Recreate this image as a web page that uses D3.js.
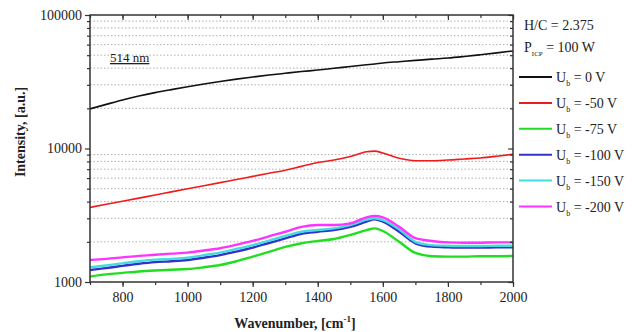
<!DOCTYPE html>
<html>
<head>
<meta charset="utf-8">
<script src="https://cdn.jsdelivr.net/npm/d3@7"></script>
<style>
  body { margin: 0; background: #fff; }
  text { font-family: "Liberation Serif", "DejaVu Serif", serif; fill: #222; }
</style>
</head>
<body>
<div id="chart"></div>
<script>
var svgWidth = 639;
var svgHeight = 332;

var margin = { top: 15, right: 126, bottom: 50, left: 90 };
var width = 513 - margin.left;
var height = 282 - margin.top;

// Wavenumber sample points (cm-1)
var wavenumbers = [700, 750, 800, 850, 900, 950, 1000, 1050, 1100, 1150, 1200, 1250, 1300, 1350,
  1400, 1450, 1500, 1550, 1575, 1600, 1650, 1700, 1750, 1800, 1850, 1900, 1950, 2000];

// Intensity (a.u.) for each bias voltage
var ub0 = [19800, 21400, 23100, 24700, 26200, 27600, 29000, 30400, 31800, 33100, 34300, 35500, 36600, 37700,
  38700, 39900, 41100, 42400, 43000, 43700, 44700, 45700, 46700, 47600, 48900, 50400, 52000, 53800];
var ub50 = [3620, 3820, 4030, 4250, 4480, 4730, 4990, 5260, 5550, 5860, 6180, 6520, 6880, 7350,
  7850, 8200, 8700, 9450, 9550, 9250, 8450, 8100, 8100, 8200, 8350, 8500, 8750, 9050];
var ub75 = [1100, 1140, 1170, 1200, 1220, 1235, 1250, 1290, 1340, 1430, 1550, 1680, 1830, 1950,
  2030, 2100, 2250, 2450, 2520, 2410, 2000, 1650, 1560, 1550, 1550, 1560, 1560, 1570];
var ub100 = [1230, 1270, 1320, 1370, 1410, 1430, 1460, 1520, 1590, 1690, 1810, 1960, 2120, 2300,
  2380, 2450, 2590, 2830, 2950, 2830, 2380, 1950, 1840, 1820, 1810, 1810, 1820, 1820];
var ub150 = [1290, 1330, 1380, 1430, 1470, 1490, 1520, 1590, 1660, 1770, 1890, 2040, 2210, 2380,
  2450, 2520, 2670, 2930, 3000, 2910, 2480, 2000, 1890, 1870, 1860, 1860, 1870, 1870];
var ub200 = [1460, 1490, 1530, 1570, 1600, 1630, 1660, 1720, 1790, 1900, 2030, 2200, 2380, 2590,
  2670, 2670, 2750, 3050, 3120, 3050, 2590, 2130, 2030, 1980, 1970, 1970, 1980, 1980];

var seriesLabels = ["0 V", "-50 V", "-75 V", "-100 V", "-150 V", "-200 V"];
var seriesColors = ["#111111", "#ee1c1c", "#22dd22", "#3333cc", "#44dddd", "#ff33ff"];
var xTicks = [800, 1000, 1200, 1400, 1600, 1800, 2000];
var yTicks = [1000, 10000, 100000];

var allSeries = [ub0, ub50, ub75, ub100, ub150, ub200];

var svg = d3.select("#chart")
  .append("svg")
  .attr("width", svgWidth)
  .attr("height", svgHeight);

var chartGroup = svg.append("g")
  .attr("transform", `translate(${margin.left}, ${margin.top})`);

var xScale = d3.scaleLinear().domain([700, 2000]).range([0, width]);
var yScale = d3.scaleLog().domain([1000, 100000]).range([height, 0]);

// minor log positions 2..9 in each decade
var minorY = [];
[1000, 10000].forEach(function(dec) {
  for (var k = 2; k <= 9; k++) minorY.push(dec * k);
});
var minorX = d3.range(700, 2001, 100);

// dotted grid
chartGroup.selectAll("line.grid")
  .data(minorY)
  .enter()
  .append("line")
  .attr("class", "grid")
  .attr("x1", 0).attr("x2", width)
  .attr("y1", function(d) { return yScale(d); })
  .attr("y2", function(d) { return yScale(d); })
  .attr("stroke", "#b0b0b0")
  .attr("stroke-width", 1)
  .attr("stroke-dasharray", "1.5,2");

// series
var line = d3.line()
  .x(function(d, i) { return xScale(wavenumbers[i]); })
  .y(function(d) { return yScale(d); })
  .curve(d3.curveMonotoneX);

// draw from bottom series up so the top ones sit on top like the original
[2, 3, 4, 5, 1, 0].forEach(function(i) {
  chartGroup.append("path")
    .datum(allSeries[i])
    .attr("d", line)
    .attr("fill", "none")
    .attr("stroke", seriesColors[i])
    .attr("stroke-width", i < 2 ? 1.6 : 2.4);
});

// axes
function styleAxis(g) {
  g.select(".domain").remove();
  g.selectAll("line").attr("stroke", "#333").attr("stroke-width", 1.2);
  g.selectAll("text").style("font-size", "14px").attr("fill", "#222");
}

var yAxis = d3.axisLeft(yScale).tickValues(yTicks).tickFormat(d3.format("d")).tickSize(5).tickPadding(3);
chartGroup.append("g").call(yAxis).call(styleAxis);
chartGroup.append("g").call(d3.axisLeft(yScale).tickValues(minorY).tickFormat("").tickSize(3)).call(styleAxis);

var xAxis = d3.axisBottom(xScale).tickValues(xTicks).tickFormat(d3.format("d")).tickSize(5).tickPadding(5);
chartGroup.append("g").attr("transform", `translate(0, ${height})`).call(xAxis).call(styleAxis);
chartGroup.append("g").attr("transform", `translate(0, ${height})`)
  .call(d3.axisBottom(xScale).tickValues(minorX).tickFormat("").tickSize(3)).call(styleAxis);

// mirrored inward ticks on top and right
chartGroup.append("g").call(d3.axisBottom(xScale).tickValues(xTicks).tickFormat("").tickSize(5)).call(styleAxis);
chartGroup.append("g").call(d3.axisBottom(xScale).tickValues(minorX).tickFormat("").tickSize(3)).call(styleAxis);
chartGroup.append("g").attr("transform", `translate(${width}, 0)`)
  .call(d3.axisLeft(yScale).tickValues(yTicks).tickFormat("").tickSize(5)).call(styleAxis);
chartGroup.append("g").attr("transform", `translate(${width}, 0)`)
  .call(d3.axisLeft(yScale).tickValues(minorY).tickFormat("").tickSize(3)).call(styleAxis);

// frame
chartGroup.append("rect")
  .attr("width", width).attr("height", height)
  .attr("fill", "none").attr("stroke", "#333").attr("stroke-width", 1.5);

// annotation
chartGroup.append("text")
  .attr("x", 20).attr("y", 47)
  .style("font-size", "13px")
  .attr("text-decoration", "underline")
  .text("514 nm");

// axis labels
svg.append("text")
  .attr("transform", "translate(25, 132) rotate(-90)")
  .attr("text-anchor", "middle")
  .style("font-size", "14px").style("font-weight", "bold")
  .text("Intensity, [a.u.]");

var xl = svg.append("text")
  .attr("x", 295).attr("y", 328)
  .attr("text-anchor", "middle")
  .style("font-size", "14px").style("font-weight", "bold");
xl.append("tspan").text("Wavenumber, [cm");
xl.append("tspan").attr("dy", -6).style("font-size", "9px").text("-1");
xl.append("tspan").attr("dy", 6).text("]");

// legend / info
svg.append("text").attr("x", 524).attr("y", 30).style("font-size", "14px").text("H/C = 2.375");
var p = svg.append("text").attr("x", 524).attr("y", 52).style("font-size", "14px");
p.append("tspan").text("P");
p.append("tspan").attr("dy", 4).style("font-size", "7px").text("ICP");
p.append("tspan").attr("dy", -4).text(" = 100 W");

var legend = svg.selectAll("g.legend")
  .data(seriesLabels)
  .enter()
  .append("g")
  .attr("class", "legend")
  .attr("transform", function(d, i) { return `translate(519, ${77 + i * 25.9})`; });

legend.append("line")
  .attr("x1", 0).attr("x2", 33)
  .attr("stroke", function(d, i) { return seriesColors[i]; })
  .attr("stroke-width", 2);

var lt = legend.append("text")
  .attr("x", 37).attr("y", 5)
  .style("font-size", "14px");
lt.append("tspan").text("U");
lt.append("tspan").attr("dy", 4).style("font-size", "8px").text("b");
lt.append("tspan").attr("dy", -4).text(function(d) { return " = " + d; });
</script>
</body>
</html>
